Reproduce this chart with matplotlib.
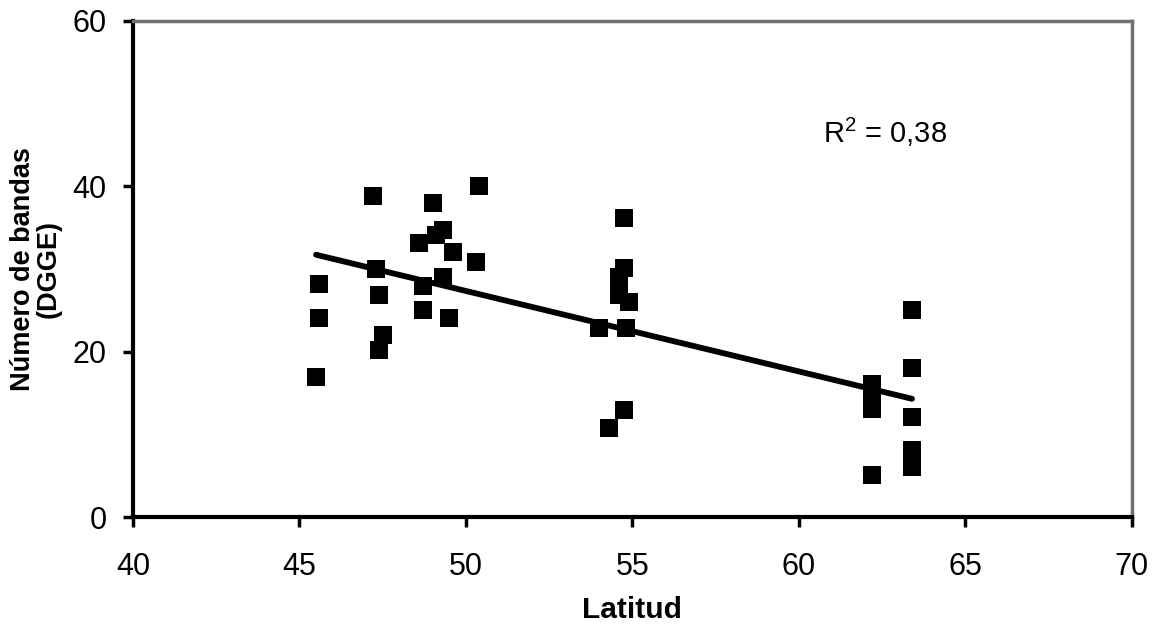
import matplotlib
matplotlib.use("Agg")
import matplotlib.pyplot as plt
import numpy as np

plt.rcParams['font.family'] = ['Liberation Sans', 'DejaVu Sans']
plt.rcParams['mathtext.fontset'] = 'custom'
plt.rcParams['mathtext.rm'] = 'Liberation Sans'

latitud = [45.5, 45.6, 45.6, 47.2, 47.3, 47.4, 47.5, 47.4,
           48.6, 48.7, 48.7, 49.0, 49.1, 49.3, 49.6, 49.3, 49.5, 50.4, 50.3,
           54.0, 54.3, 54.6, 54.6, 54.75, 54.75, 54.75, 54.9, 54.8,
           62.2, 62.2, 62.2, 62.2, 63.4, 63.4, 63.4, 63.4, 63.4]
bandas = [17.0, 24.1, 28.2, 38.8, 30.0, 26.8, 22.0, 20.2,
          33.1, 28.0, 25.0, 38.0, 34.1, 34.7, 32.1, 29.0, 24.1, 40.1, 30.8,
          22.9, 10.8, 29.0, 26.8, 36.2, 30.1, 13.0, 26.0, 22.9,
          16.1, 14.5, 13.1, 5.1, 25.1, 18.0, 12.1, 8.1, 6.0]

r2_text = "R$^{\\mathrm{2}}$ = 0,38"
xticks = [40, 45, 50, 55, 60, 65, 70]
yticks = [0, 20, 40, 60]

fig = plt.figure(figsize=(11.56, 6.26), dpi=100)
ax = fig.add_axes([0.115, 0.174, 0.864, 0.7925])

ax.plot(latitud, bandas, linestyle='none', marker='s', markersize=13.5,
        color='black', markeredgewidth=0, zorder=3)

coef = np.polyfit(latitud, bandas, 1)
xl = np.array([min(latitud), max(latitud)])
ax.plot(xl, np.polyval(coef, xl), color='black', linewidth=4.2,
        solid_capstyle='round', zorder=4)

ax.set_xlim(40, 70)
ax.set_ylim(0, 60)
ax.set_xticks(xticks)
ax.set_yticks(yticks)
ax.tick_params(axis='both', direction='out', length=7, width=2.5,
               labelsize=22, color='black')
ax.tick_params(axis='x', pad=18)
ax.tick_params(axis='y', pad=12)

for s in ['left', 'bottom']:
    ax.spines[s].set_color('black')
    ax.spines[s].set_linewidth(3)
for s in ['top', 'right']:
    ax.spines[s].set_color('#707070')
    ax.spines[s].set_linewidth(2.5)

ax.set_xlabel('Latitud', fontsize=21.5, fontweight='bold', labelpad=10)
ax.set_ylabel('Número de bandas\n(DGGE)', fontsize=19.5, fontweight='bold',
              labelpad=8, linespacing=0.95)

ax.text(60.72, 45.2, r2_text, fontsize=21, va='baseline', ha='left')

fig.savefig('out.png', dpi=100)
